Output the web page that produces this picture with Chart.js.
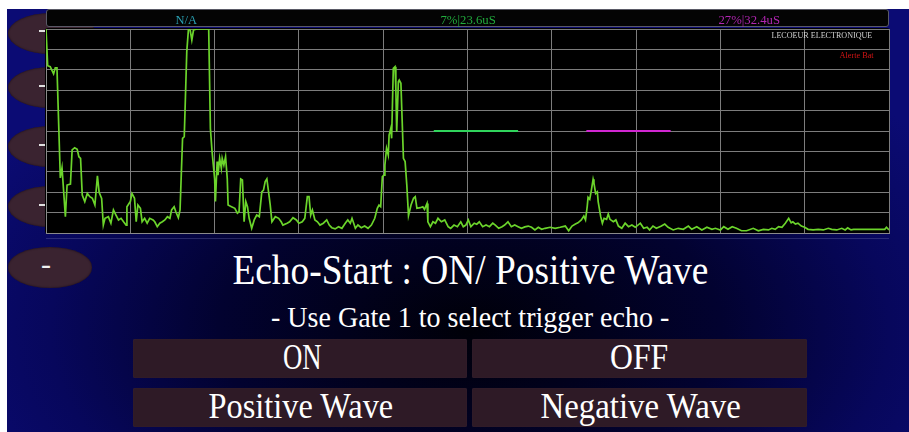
<!DOCTYPE html>
<html>
<head>
<meta charset="utf-8">
<script src="https://cdn.jsdelivr.net/npm/chart.js@4.4.1/dist/chart.umd.min.js"></script>
<style>
  html, body { margin: 0; padding: 0; background: #fff; }
  body { width: 909px; height: 432px; overflow: hidden; position: relative; font-family: "Liberation Serif", "DejaVu Serif", serif; }
  #screen {
    position: absolute; left: 7px; top: 9px; width: 902px; height: 423px; overflow: hidden;
    background: radial-gradient(ellipse 560px 330px at 463px 321px, #000008 0%, #020230 45%, #07075c 75%, #0b0b74 100%);
  }
  .abs { position: absolute; }
  .oval { position: absolute; left: 1px; width: 88px; height: 41px; background: #3a2330; border-radius: 44px / 21px; box-shadow: inset 0 0 2px #1a0c14; }
  .dash { position: absolute; left: 32px; width: 6px; height: 2px; background: #e0e0e0; }
  #topbar { left: 39px; top: 0px; width: 841px; height: 16px; background: #040404; border: 1px solid #5a5a66; border-radius: 3px; }
  #scope { left: 38px; top: 19px; width: 845px; height: 206px; background: #000; border-radius: 3px; }
  #underline { left: 39px; top: 229px; width: 843px; height: 1px; background: rgba(110,110,170,0.35); }
  canvas#chart { position: absolute; left: 33px; top: 14px; }
  .t { position: absolute; white-space: nowrap; line-height: 1; transform-origin: 50% 50%; }
  .btn { position: absolute; background: #2e1a26; border-radius: 2px; box-shadow: inset 0 0 1px #4a3040; }
</style>
</head>
<body>
<div id="screen">
  <div class="oval" style="top:4px"></div>
  <div class="oval" style="top:58px"></div>
  <div class="oval" style="top:117px"></div>
  <div class="oval" style="top:177px"></div>
  <div class="oval" style="top:238px;width:84px"></div>
  <div class="dash" style="top:21px"></div>
  <div class="dash" style="top:76px"></div>
  <div class="dash" style="top:135px"></div>
  <div class="dash" style="top:195px"></div>

  <div id="topbar" class="abs"></div>
  <div id="scope" class="abs"></div>
  <div id="underline" class="abs"></div>
  <canvas id="chart" width="855" height="216"></canvas>

  <div class="t fit" data-cx="179.5" data-w="22" style="top:5px;font-size:12.5px;color:#2aa3b5">N/A</div>
  <div class="t fit" data-cx="460.5" data-w="55" style="top:5px;font-size:12.5px;color:#22ad3e">7%|23.6uS</div>
  <div class="t fit" data-cx="742" data-w="62" style="top:5px;font-size:12.5px;color:#b326b3">27%|32.4uS</div>

  <div class="t fit" data-cx="815" data-w="101" style="top:23px;font-size:8px;color:#d2d2d2">LECOEUR ELECTRONIQUE</div>
  <div class="t fit" data-cx="849" data-w="34" style="top:43px;font-size:8px;color:#d41414">Alerte Bat</div>

  <div class="t" style="left:34px;top:240px;font-size:30px;color:#f0f0f0">-</div>

  <div class="t fit" data-cx="463" data-w="476" style="top:240px;font-size:42px;color:#fff">Echo-Start : ON/ Positive Wave</div>
  <div class="t fit" data-cx="463" data-w="398" style="top:294px;font-size:29px;color:#fff">- Use Gate 1 to select trigger echo -</div>

  <div class="btn" style="left:126px;top:330px;width:334px;height:39px"></div>
  <div class="btn" style="left:465px;top:330px;width:335px;height:39px"></div>
  <div class="btn" style="left:126px;top:379px;width:334px;height:39px"></div>
  <div class="btn" style="left:465px;top:379px;width:335px;height:39px"></div>
  <div class="t fit" data-cx="295" data-w="39" style="top:331px;font-size:35px;color:#fff">ON</div>
  <div class="t fit" data-cx="632" data-w="58" style="top:331px;font-size:35px;color:#fff">OFF</div>
  <div class="t fit" data-cx="294" data-w="185" style="top:380px;font-size:35px;color:#fff">Positive Wave</div>
  <div class="t fit" data-cx="633" data-w="200" style="top:380px;font-size:35px;color:#fff">Negative Wave</div>
</div>

<script>
// A-scan trace: x in % of screen width, y in % of full screen height
const traceX = [
  0, 0.2, 0.5, 0.9, 1.1, 1.3, 1.7, 1.9, 2.3, 2.5, 2.9, 3.1, 3.4, 3.7, 3.9, 4.1, 4.3, 4.6, 4.9, 5.2,
  5.5, 5.8, 6.1, 6.3, 6.6, 6.8, 7.0, 7.4, 7.7, 8.0, 8.3, 8.6, 8.9, 9.2, 9.5, 9.6, 10.0, 10.2, 10.5, 10.7,
  10.9, 11.2, 11.4, 11.7, 12.0, 12.3, 12.7, 12.9, 13.2, 13.5, 13.8, 14.1, 14.4, 14.7, 14.9, 15.2, 15.4, 15.7, 15.9, 16.2,
  16.4, 16.7, 16.9, 17.1, 17.3, 17.5, 17.9, 19.3, 19.5, 19.7, 20.0, 20.1, 20.3, 20.4, 20.6, 20.8, 20.9, 21.1, 21.3, 21.5,
  21.6, 22.0, 22.4, 22.7, 22.9, 23.1, 23.3, 23.5, 23.7, 23.9, 24.1, 24.4, 24.7, 25.0, 25.3, 25.6, 25.8, 26.0, 26.2, 26.4,
  26.6, 26.8, 27.2, 27.6, 27.9, 28.1, 28.6, 28.9, 29.3, 29.7, 30.0, 30.4, 30.7, 31.0, 31.2, 31.4, 31.6, 31.9, 32.2, 32.5,
  32.9, 33.3, 33.6, 33.9, 34.3, 34.7, 35.1, 35.5, 35.8, 36.1, 36.3, 36.7, 37.0, 37.4, 37.8, 38.2, 38.6, 39.0, 39.3, 39.5,
  39.7, 39.9, 40.1, 40.2, 40.4, 40.6, 40.7, 40.9, 41.0, 41.2, 41.4, 41.5, 41.6, 41.8, 41.9, 42.1, 42.2, 42.4, 42.6, 42.8,
  43.0, 43.3, 43.6, 43.8, 44.0, 44.4, 44.7, 44.9, 45.2, 45.3, 45.6, 45.9, 46.2, 46.5, 46.9, 47.3, 47.7, 48.0, 48.4, 48.8,
  49.2, 49.5, 49.8, 50.1, 50.4, 50.8, 51.1, 51.4, 51.8, 52.2, 52.6, 53.0, 53.3, 53.7, 54.1, 54.4, 54.8, 55.2, 55.6, 56.0,
  56.4, 56.8, 57.2, 57.6, 58.0, 58.4, 58.8, 59.2, 59.8, 60.4, 61.0, 61.6, 62.0, 62.4, 62.8, 63.1, 63.5, 63.8, 64.0, 64.2,
  64.3, 64.5, 64.7, 64.9, 65.0, 65.2, 65.4, 65.5, 65.8, 66.0, 66.2, 66.5, 66.7, 66.9, 67.3, 67.6, 67.9, 68.3, 68.7, 69.1,
  69.5, 69.9, 70.5, 70.9, 71.3, 71.6, 72.0, 72.4, 73.0, 73.4, 73.8, 74.4, 75.0, 75.6, 76.2, 76.6, 77.2, 77.8, 78.4, 79.0,
  79.4, 80.0, 80.4, 80.9, 81.4, 81.9, 82.5, 83.1, 83.9, 84.5, 85.1, 85.7, 86.1, 86.5, 86.9, 87.3, 87.7, 88.1, 88.4, 88.6,
  88.9, 89.2, 89.6, 90.0, 90.4, 91.0, 91.6, 92.2, 92.8, 93.2, 93.8, 94.4, 94.8, 95.1, 95.5, 95.8, 99.5, 99.7, 100
];
const traceY = [
  100, 82, 81.5, 78, 81, 81, 27, 32, 8, 23.5, 24, 40.7, 41.8, 41, 37.4, 36.6, 18.6, 15.4, 19.4, 17.8,
  17, 13.7, 28, 20, 17, 3.9, 7.2, 8, 4.8, 11.3, 8.8, 6.4, 7.2, 5.5, 3.9, 12.9, 15.4, 19.4, 17, 5.5,
  13.7, 12.1, 5.5, 7.2, 4.8, 7.2, 6.4, 5.5, 3.1, 4.8, 5.5, 6.4, 8, 7.2, 11.3, 12.9, 10.4, 7.5, 11.3, 46.4,
  47.2, 88.9, 100, 99.5, 94.6, 99.5, 100, 100, 51.3, 39.9, 26.8, 15.4, 35, 28.4, 36.6, 31.7, 36.6, 33.3, 37.4, 26.8,
  13.7, 12.9, 12.1, 9.7, 10.4, 26.5, 26, 5.5, 15.4, 12.9, 7.2, 2.3, 6.4, 8.8, 8, 20.2, 21, 25.2, 26.5, 20.2,
  13.7, 5.5, 8, 7.2, 5.5, 3.9, 4.8, 5.5, 7.5, 6.4, 4.8, 5.5, 7.2, 17.8, 17.8, 8.8, 11.3, 6.4, 5.5, 3.9,
  4.8, 6.4, 3.9, 2.6, 2, 3.1, 2.3, 4.8, 6.4, 4.8, 7.2, 2.3, 3.9, 2.6, 3.4, 2.3, 3.9, 7.2, 12.1, 13.7,
  12.9, 27.6, 28.4, 33.3, 41.5, 38.2, 48, 51.3, 46.4, 80.7, 81.5, 70.9, 49.7, 74.2, 75, 73.4, 61.1, 36.6, 35, 23.5,
  8.5, 13.7, 17, 17.8, 12.1, 12.4, 12.9, 11.6, 14.5, 5.5, 3.1, 5.5, 4.8, 7.2, 5.5, 6.4, 3.1, 2.3, 3.9, 3.1,
  5.5, 3.1, 3.9, 6.4, 3.1, 4.8, 4.3, 5.5, 3.1, 3.9, 3.1, 4.8, 3.9, 2.3, 3.1, 3.9, 5.5, 3.1, 3.9, 3.1,
  2.3, 3, 3.4, 2.8, 1.5, 2.8, 1.8, 2.3, 2.8, 2.3, 2.8, 3.4, 1.1, 3.4, 4.4, 5, 6.4, 8.3, 6.4, 12.9,
  17.5, 16.5, 21.1, 26.3, 24.4, 19.4, 20.2, 15.4, 8, 4.8, 7.2, 6.7, 9.3, 6.7, 5.5, 6.4, 3.4, 2.3, 4.8, 3.1,
  3.9, 2.8, 4.8, 2.3, 2.8, 1.5, 3.4, 2.3, 3.4, 4.4, 2.8, 1.5, 2.3, 1.8, 3.4, 1.8, 3.1, 1.5, 2.8, 1.8,
  2.3, 1.5, 3.1, 1.8, 3.1, 2.3, 1.1, 1.1, 2.3, 1.1, 1.8, 1.5, 2.3, 1.8, 3.1, 2.8, 4.8, 7.2, 5, 5.5,
  4.4, 4.8, 3.4, 2.8, 1.8, 1.5, 1.8, 1.5, 2.3, 1.8, 1.5, 2.3, 1.5, 2.5, 1.5, 1.8, 1.8, 2.8, 1.5
];

// gates: start, end, threshold level
const gate1X = [46.0, 56.0];
const gate1Y = [50, 50];
const gate2X = [64.1, 74.1];
const gate2Y = [50, 50];

const xRange = [0, 100];
const yRange = [0, 100];
const gridStep = 10;

function pts(xs, ys) {
    return xs.map(function (x, i) { return { x: x, y: ys[i] }; });
}

const gridOpts = { color: '#7c7c7c', lineWidth: 1, drawTicks: false };

new Chart(document.getElementById('chart').getContext('2d'), {
    type: 'line',
    data: {
        datasets: [
            { label: 'A-scan', data: pts(traceX, traceY), borderColor: '#6bd42b', borderWidth: 1.7, pointRadius: 0, tension: 0 },
            { label: 'Gate 1', data: pts(gate1X, gate1Y), borderColor: '#30d45c', borderWidth: 2, pointRadius: 0 },
            { label: 'Gate 2', data: pts(gate2X, gate2Y), borderColor: '#d126d1', borderWidth: 2, pointRadius: 0 }
        ]
    },
    options: {
        responsive: false,
        animation: false,
        events: [],
        layout: { padding: { left: 6, right: 6, top: 6, bottom: 6 } },
        plugins: { legend: { display: false }, tooltip: { enabled: false } },
        scales: {
            x: {
                type: 'linear', min: xRange[0], max: xRange[1],
                ticks: { display: false, stepSize: gridStep },
                grid: gridOpts,
                border: { display: true, color: '#8a8a8a' }
            },
            y: {
                type: 'linear', min: yRange[0], max: yRange[1],
                ticks: { display: false, stepSize: gridStep },
                grid: gridOpts,
                border: { display: true, color: '#8a8a8a' }
            }
        }
    }
});

// squeeze the serif labels to the widths they have on the instrument screen
function fitLabels() {
    document.querySelectorAll('.fit').forEach(function (el) {
        const w = el.offsetWidth;
        const target = parseFloat(el.dataset.w);
        el.style.left = (parseFloat(el.dataset.cx) - w / 2) + 'px';
        el.style.transform = 'scaleX(' + (target / w).toFixed(3) + ')';
    });
}
if (document.fonts && document.fonts.ready) {
    document.fonts.ready.then(fitLabels);
} else {
    fitLabels();
}
fitLabels();
</script>
</body>
</html>
